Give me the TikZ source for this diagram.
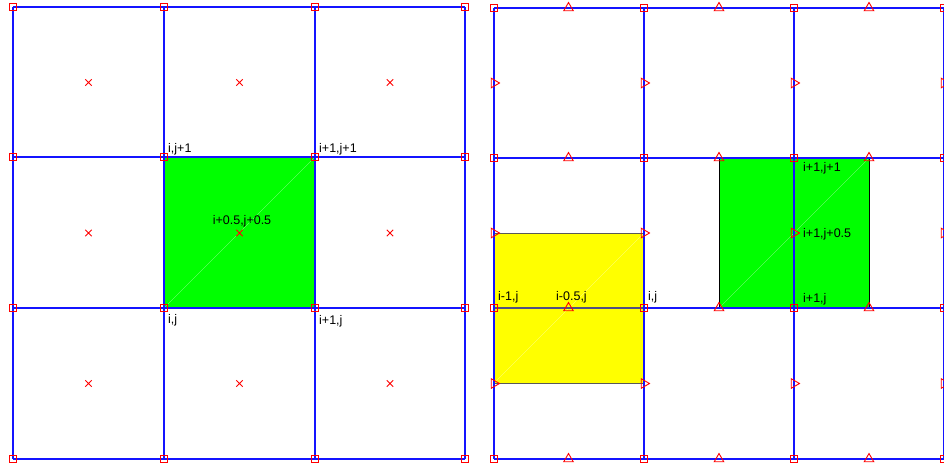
\documentclass[tikz,border=0pt]{standalone}
\usepackage{fontspec}
\setmainfont{Liberation Sans}
\usetikzlibrary{shapes.geometric,shapes.misc}
\definecolor{gridblue}{RGB}{20,20,255}
\definecolor{pureyellow}{RGB}{255,255,0}
\definecolor{puregreen}{RGB}{0,255,0}
\definecolor{midline}{RGB}{80,80,130}
\begin{document}
\begin{tikzpicture}[x=1pt,y=-1pt,
  gridline/.style={draw=gridblue,line width=2pt},
  sqmark/.style={rectangle,draw=red,line width=0.9pt,minimum size=6.5pt,inner sep=0pt},
  xmark/.style={cross out,draw=red,line width=0.9pt,minimum size=5.5pt,inner sep=0pt},
  upmark/.style={regular polygon,regular polygon sides=3,draw=red,line width=0.9pt,minimum size=11pt,inner sep=0pt},
  rtmark/.style={upmark,shape border rotate=-90},
  lbl/.style={font=\fontsize{12.5}{14}\selectfont,inner sep=0pt,anchor=base west},
  diag/.style={draw=white,line width=0.3pt,opacity=0.6}]
\useasboundingbox (0,0) rectangle (944,467);
\clip (0,0) rectangle (944,467);
\fill[white] (0,0) rectangle (944,467);
% ---- left panel ----
\fill[puregreen] (164,157) rectangle (315,308);
\draw[diag] (164,308) -- (315,157);
\foreach \x in {13,164,315,465} \draw[gridline] (\x,7) -- (\x,459);
\foreach \y in {7,157,308,459} \draw[gridline] (13,\y) -- (465,\y);
\foreach \x [count=\i] in {13,164,315,465}
  \foreach \y [count=\j] in {7,157,308,459}
    \node[sqmark] (ls-\i-\j) at (\x,\y) {};
\foreach \x [count=\i] in {88.5,239.5,390}
  \foreach \y [count=\j] in {82.5,233,383.5}
    \node[xmark] (lx-\i-\j) at (\x,\y) {};
\node[lbl] (l1) at (168,152) {i,j+1};
\node[lbl] (l2) at (319,152) {i+1,j+1};
\node[lbl,anchor=base] (l3) at (242,224) {i+0.5,j+0.5};
\node[lbl] (l4) at (168,323) {i,j};
\node[lbl] (l5) at (319,324) {i+1,j};
% ---- right panel ----
\fill[pureyellow,draw=black!65,line width=1pt] (494,233) rectangle (644,383);
\draw[diag] (494,383) -- (644,233);
\fill[puregreen,draw=black,line width=1pt] (719,158) rectangle (869,308);
\draw[diag] (719,308) -- (869,158);
\foreach \x in {494,644,794,944} \draw[gridline] (\x,8) -- (\x,459);
\foreach \y in {8,158,308,459} \draw[gridline] (494,\y) -- (944,\y);
\draw[draw=midline,line width=1.8pt] (495,308) -- (643,308);
\foreach \x [count=\i] in {494,644,794,944}
  \foreach \y [count=\j] in {8,158,308,459}
    \node[sqmark] (rs-\i-\j) at (\x,\y) {};
\foreach \x [count=\i] in {568.5,719,869}
  \foreach \y [count=\j] in {8,158,308,459}
    \node[upmark] (ru-\i-\j) at (\x,\y) {};
\foreach \x [count=\i] in {494,644,794,944}
  \foreach \y [count=\j] in {83,233,383.5}
    \node[rtmark] (rr-\i-\j) at (\x,\y) {};
\node[lbl] (r1) at (498,300) {i-1,j};
\node[lbl] (r2) at (556,300) {i-0.5,j};
\node[lbl] (r3) at (648,300) {i,j};
\node[lbl] (r4) at (803,171) {i+1,j+1};
\node[lbl] (r5) at (803,237) {i+1,j+0.5};
\node[lbl] (r6) at (803,302) {i+1,j};
\end{tikzpicture}
\end{document}
